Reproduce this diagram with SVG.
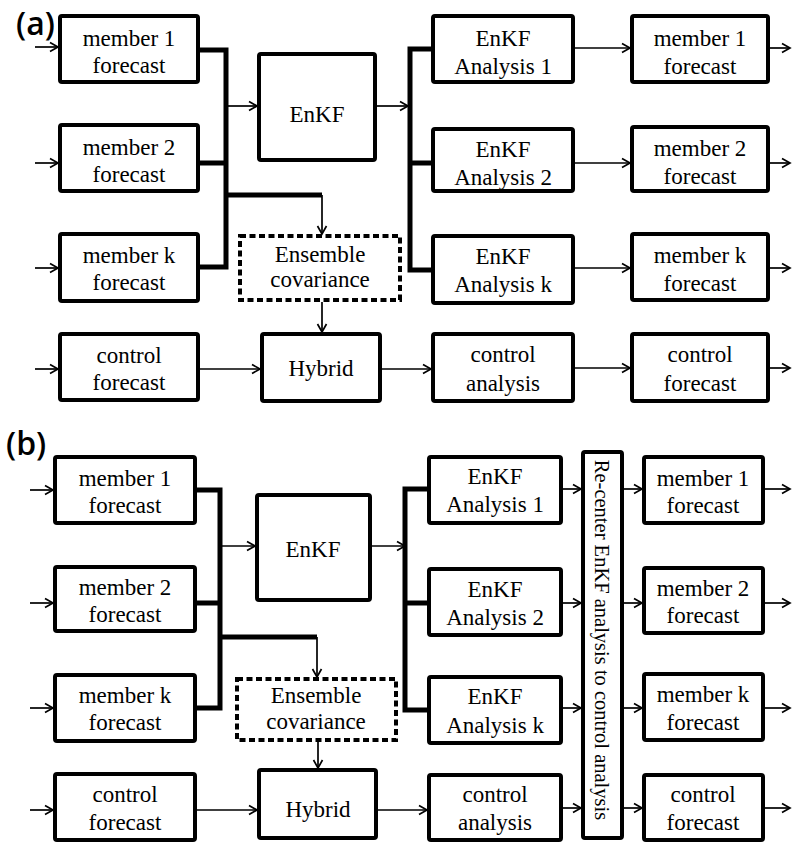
<svg xmlns="http://www.w3.org/2000/svg" width="792" height="843" viewBox="0 0 792 843">
  <style>
    .box { fill: #fff; stroke: #000; stroke-width: 4; }
    .dash { fill: #fff; stroke: #000; stroke-width: 4; stroke-dasharray: 6 3.5; }
    .bus { fill: none; stroke: #000; stroke-width: 5; stroke-linejoin: miter; stroke-linecap: butt; }
    .arr { fill: none; stroke: #000; stroke-width: 1.7; marker-end: url(#head); }
  </style>
  <defs>
    <marker id="head" markerUnits="userSpaceOnUse" viewBox="-10 -6 12 12" markerWidth="12" markerHeight="12" refX="0" refY="0" orient="auto">
      <path d="M-8,-4.5 L0,0 L-8,4.5" fill="none" stroke="#000" stroke-width="1.7"/>
    </marker>
  </defs>

  <!-- node boxes with serif labels -->
  <g id="nodes">
  <!-- ===== panel (a) nodes ===== -->
  <g id="a-member1">
    <rect class="box" x="60" y="16" width="138" height="66" rx="2"/>
    <text x="129" y="46" font-family="Liberation Serif" font-size="23" text-anchor="middle">member 1</text>
    <text x="129" y="73" font-family="Liberation Serif" font-size="23" text-anchor="middle">forecast</text>
  </g>
  <g id="a-member2">
    <rect class="box" x="60" y="125" width="138" height="66" rx="2"/>
    <text x="129" y="155" font-family="Liberation Serif" font-size="23" text-anchor="middle">member 2</text>
    <text x="129" y="182" font-family="Liberation Serif" font-size="23" text-anchor="middle">forecast</text>
  </g>
  <g id="a-memberk">
    <rect class="box" x="60" y="234" width="138" height="67" rx="2"/>
    <text x="129" y="263" font-family="Liberation Serif" font-size="23" text-anchor="middle">member k</text>
    <text x="129" y="290" font-family="Liberation Serif" font-size="23" text-anchor="middle">forecast</text>
  </g>
  <g id="a-control-forecast">
    <rect class="box" x="60" y="334" width="138" height="66" rx="2"/>
    <text x="129" y="363" font-family="Liberation Serif" font-size="23" text-anchor="middle">control</text>
    <text x="129" y="390" font-family="Liberation Serif" font-size="23" text-anchor="middle">forecast</text>
  </g>
  <g id="a-enkf">
    <rect class="box" x="259" y="54" width="116" height="106" rx="2"/>
    <text x="317" y="122" font-family="Liberation Serif" font-size="23" text-anchor="middle">EnKF</text>
  </g>
  <g id="a-covariance">
    <rect class="dash" x="240" y="236" width="160" height="64"/>
    <text x="320" y="262" font-family="Liberation Serif" font-size="23" text-anchor="middle">Ensemble</text>
    <text x="320" y="287" font-family="Liberation Serif" font-size="23" text-anchor="middle">covariance</text>
  </g>
  <g id="a-hybrid">
    <rect class="box" x="262" y="334" width="118" height="67" rx="2"/>
    <text x="321" y="376" font-family="Liberation Serif" font-size="23" text-anchor="middle">Hybrid</text>
  </g>
  <g id="a-analysis1">
    <rect class="box" x="433" y="16" width="140" height="66" rx="2"/>
    <text x="503" y="46" font-family="Liberation Serif" font-size="23" text-anchor="middle">EnKF</text>
    <text x="503" y="74" font-family="Liberation Serif" font-size="23" text-anchor="middle">Analysis 1</text>
  </g>
  <g id="a-analysis2">
    <rect class="box" x="433" y="129" width="140" height="62" rx="2"/>
    <text x="503" y="157" font-family="Liberation Serif" font-size="23" text-anchor="middle">EnKF</text>
    <text x="503" y="185" font-family="Liberation Serif" font-size="23" text-anchor="middle">Analysis 2</text>
  </g>
  <g id="a-analysisk">
    <rect class="box" x="433" y="236" width="140" height="67" rx="2"/>
    <text x="503" y="264" font-family="Liberation Serif" font-size="23" text-anchor="middle">EnKF</text>
    <text x="503" y="292" font-family="Liberation Serif" font-size="23" text-anchor="middle">Analysis k</text>
  </g>
  <g id="a-control-analysis">
    <rect class="box" x="433" y="334" width="140" height="67" rx="2"/>
    <text x="503" y="362" font-family="Liberation Serif" font-size="23" text-anchor="middle">control</text>
    <text x="503" y="391" font-family="Liberation Serif" font-size="23" text-anchor="middle">analysis</text>
  </g>
  <g id="a-next-member1">
    <rect class="box" x="632" y="16" width="136" height="66" rx="2"/>
    <text x="700" y="46" font-family="Liberation Serif" font-size="23" text-anchor="middle">member 1</text>
    <text x="700" y="74" font-family="Liberation Serif" font-size="23" text-anchor="middle">forecast</text>
  </g>
  <g id="a-next-member2">
    <rect class="box" x="632" y="127" width="136" height="64" rx="2"/>
    <text x="700" y="156" font-family="Liberation Serif" font-size="23" text-anchor="middle">member 2</text>
    <text x="700" y="184" font-family="Liberation Serif" font-size="23" text-anchor="middle">forecast</text>
  </g>
  <g id="a-next-memberk">
    <rect class="box" x="632" y="234" width="136" height="66" rx="2"/>
    <text x="700" y="263" font-family="Liberation Serif" font-size="23" text-anchor="middle">member k</text>
    <text x="700" y="291" font-family="Liberation Serif" font-size="23" text-anchor="middle">forecast</text>
  </g>
  <g id="a-next-control">
    <rect class="box" x="632" y="334" width="136" height="67" rx="2"/>
    <text x="700" y="362" font-family="Liberation Serif" font-size="23" text-anchor="middle">control</text>
    <text x="700" y="391" font-family="Liberation Serif" font-size="23" text-anchor="middle">forecast</text>
  </g>

  <!-- ===== panel (b) nodes ===== -->
  <g id="b-member1">
    <rect class="box" x="55" y="457" width="140" height="66" rx="2"/>
    <text x="125" y="486" font-family="Liberation Serif" font-size="23" text-anchor="middle">member 1</text>
    <text x="125" y="513" font-family="Liberation Serif" font-size="23" text-anchor="middle">forecast</text>
  </g>
  <g id="b-member2">
    <rect class="box" x="55" y="567" width="140" height="64" rx="2"/>
    <text x="125" y="595" font-family="Liberation Serif" font-size="23" text-anchor="middle">member 2</text>
    <text x="125" y="622" font-family="Liberation Serif" font-size="23" text-anchor="middle">forecast</text>
  </g>
  <g id="b-memberk">
    <rect class="box" x="55" y="675" width="140" height="66" rx="2"/>
    <text x="125" y="703" font-family="Liberation Serif" font-size="23" text-anchor="middle">member k</text>
    <text x="125" y="730" font-family="Liberation Serif" font-size="23" text-anchor="middle">forecast</text>
  </g>
  <g id="b-control-forecast">
    <rect class="box" x="55" y="774" width="140" height="66" rx="2"/>
    <text x="125" y="802" font-family="Liberation Serif" font-size="23" text-anchor="middle">control</text>
    <text x="125" y="830" font-family="Liberation Serif" font-size="23" text-anchor="middle">forecast</text>
  </g>
  <g id="b-enkf">
    <rect class="box" x="257" y="495" width="113" height="105" rx="2"/>
    <text x="313" y="557" font-family="Liberation Serif" font-size="23" text-anchor="middle">EnKF</text>
  </g>
  <g id="b-covariance">
    <rect class="dash" x="237" y="679" width="159" height="61"/>
    <text x="316" y="703" font-family="Liberation Serif" font-size="23" text-anchor="middle">Ensemble</text>
    <text x="316" y="729" font-family="Liberation Serif" font-size="23" text-anchor="middle">covariance</text>
  </g>
  <g id="b-hybrid">
    <rect class="box" x="259" y="770" width="117" height="68" rx="2"/>
    <text x="318" y="817" font-family="Liberation Serif" font-size="23" text-anchor="middle">Hybrid</text>
  </g>
  <g id="b-analysis1">
    <rect class="box" x="429" y="457" width="132" height="66" rx="2"/>
    <text x="495" y="484" font-family="Liberation Serif" font-size="23" text-anchor="middle">EnKF</text>
    <text x="495" y="512" font-family="Liberation Serif" font-size="23" text-anchor="middle">Analysis 1</text>
  </g>
  <g id="b-analysis2">
    <rect class="box" x="429" y="569" width="132" height="66" rx="2"/>
    <text x="495" y="597" font-family="Liberation Serif" font-size="23" text-anchor="middle">EnKF</text>
    <text x="495" y="625" font-family="Liberation Serif" font-size="23" text-anchor="middle">Analysis 2</text>
  </g>
  <g id="b-analysisk">
    <rect class="box" x="429" y="677" width="132" height="66" rx="2"/>
    <text x="495" y="704" font-family="Liberation Serif" font-size="23" text-anchor="middle">EnKF</text>
    <text x="495" y="733" font-family="Liberation Serif" font-size="23" text-anchor="middle">Analysis k</text>
  </g>
  <g id="b-control-analysis">
    <rect class="box" x="429" y="775" width="132" height="65" rx="2"/>
    <text x="495" y="802" font-family="Liberation Serif" font-size="23" text-anchor="middle">control</text>
    <text x="495" y="830" font-family="Liberation Serif" font-size="23" text-anchor="middle">analysis</text>
  </g>
  <g id="b-recenter">
    <rect class="box" x="583" y="452" width="39" height="386" rx="2"/>
    <text font-family="Liberation Serif" font-size="20.5" text-anchor="middle" transform="translate(595,640) rotate(90)">Re-center EnKF analysis to control analysis</text>
  </g>
  <g id="b-next-member1">
    <rect class="box" x="644" y="457" width="119" height="66" rx="2"/>
    <text x="703" y="486" font-family="Liberation Serif" font-size="23" text-anchor="middle">member 1</text>
    <text x="703" y="513" font-family="Liberation Serif" font-size="23" text-anchor="middle">forecast</text>
  </g>
  <g id="b-next-member2">
    <rect class="box" x="644" y="568" width="119" height="65" rx="2"/>
    <text x="703" y="596" font-family="Liberation Serif" font-size="23" text-anchor="middle">member 2</text>
    <text x="703" y="623" font-family="Liberation Serif" font-size="23" text-anchor="middle">forecast</text>
  </g>
  <g id="b-next-memberk">
    <rect class="box" x="644" y="674" width="119" height="66" rx="2"/>
    <text x="703" y="702" font-family="Liberation Serif" font-size="23" text-anchor="middle">member k</text>
    <text x="703" y="730" font-family="Liberation Serif" font-size="23" text-anchor="middle">forecast</text>
  </g>
  <g id="b-next-control">
    <rect class="box" x="644" y="775" width="119" height="65" rx="2"/>
    <text x="703" y="802" font-family="Liberation Serif" font-size="23" text-anchor="middle">control</text>
    <text x="703" y="830" font-family="Liberation Serif" font-size="23" text-anchor="middle">forecast</text>
  </g>
  </g>

  <!-- connectors -->
  <g id="connectors">
    <!-- panel (a): thick buses -->
    <path class="bus" d="M200,50 H226 V267 H200 M200,163 H226 M226,195 H322"/>
    <path class="bus" d="M431,49 H410 V270 H431 M410,163 H431"/>
    <!-- panel (a): arrows -->
    <path class="arr" d="M35,47 H58"/>
    <path class="arr" d="M35,163 H58"/>
    <path class="arr" d="M35,268 H58"/>
    <path class="arr" d="M35,369 H58"/>
    <path class="arr" d="M226,106 H257"/>
    <path class="arr" d="M377,106 H408"/>
    <path class="arr" d="M322,195 V234"/>
    <path class="arr" d="M322,302 V332"/>
    <path class="arr" d="M200,369 H260"/>
    <path class="arr" d="M382,369 H431"/>
    <path class="arr" d="M575,48 H630"/>
    <path class="arr" d="M575,163 H630"/>
    <path class="arr" d="M575,268 H630"/>
    <path class="arr" d="M575,368 H630"/>
    <path class="arr" d="M770,48 H790"/>
    <path class="arr" d="M770,163 H790"/>
    <path class="arr" d="M770,268 H790"/>
    <path class="arr" d="M770,368 H790"/>

    <!-- panel (b): thick buses -->
    <path class="bus" d="M197,490 H220 V708 H197 M197,603 H220 M220,637 H317"/>
    <path class="bus" d="M427,489 H405 V710 H427 M405,603 H427"/>
    <!-- panel (b): arrows -->
    <path class="arr" d="M30,490 H53"/>
    <path class="arr" d="M30,603 H53"/>
    <path class="arr" d="M30,708 H53"/>
    <path class="arr" d="M30,810 H53"/>
    <path class="arr" d="M220,546 H255"/>
    <path class="arr" d="M372,546 H405"/>
    <path class="arr" d="M317,637 V677"/>
    <path class="arr" d="M318,742 V768"/>
    <path class="arr" d="M197,810 H257"/>
    <path class="arr" d="M378,810 H427"/>
    <path class="arr" d="M563,489 H581"/>
    <path class="arr" d="M563,603 H581"/>
    <path class="arr" d="M563,708 H581"/>
    <path class="arr" d="M563,808 H581"/>
    <path class="arr" d="M624,489 H642"/>
    <path class="arr" d="M624,603 H642"/>
    <path class="arr" d="M624,708 H642"/>
    <path class="arr" d="M624,808 H642"/>
    <path class="arr" d="M765,489 H790"/>
    <path class="arr" d="M765,603 H790"/>
    <path class="arr" d="M765,708 H790"/>
    <path class="arr" d="M765,808 H790"/>
  </g>

  <!-- panel labels -->
  <g font-family="Open Sans, DejaVu Sans, sans-serif" font-size="32" font-weight="600">
    <text x="16" y="35">(a)</text>
    <text x="6" y="455">(b)</text>
  </g>
</svg>
